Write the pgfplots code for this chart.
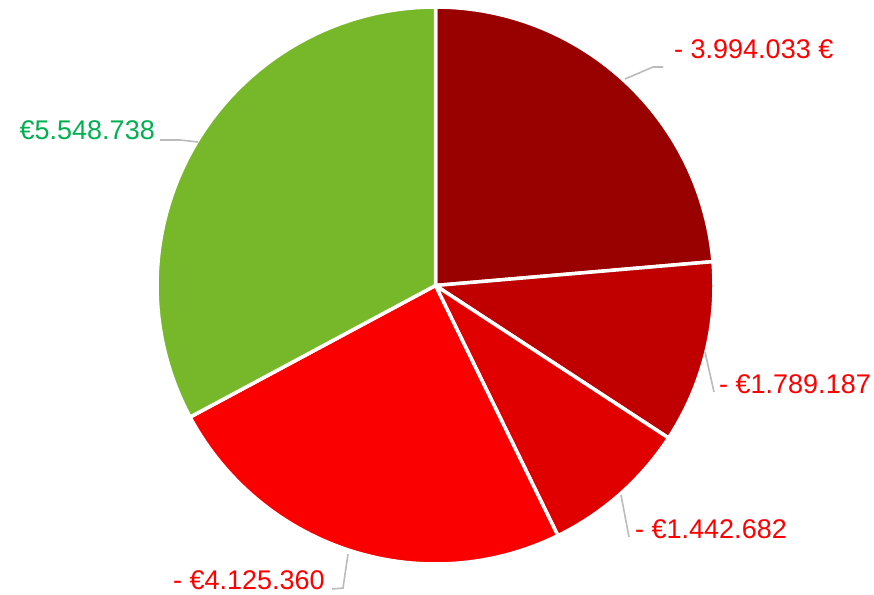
\documentclass[border=0pt]{standalone}
\usepackage{pgfplots}
\pgfplotsset{compat=1.18}
\usepackage{fontspec}
\setmainfont{Liberation Sans}
\definecolor{s1}{HTML}{990000}
\definecolor{s2}{HTML}{C00000}
\definecolor{s3}{HTML}{E00000}
\definecolor{s4}{HTML}{FA0000}
\definecolor{s5}{HTML}{77B82A}
\definecolor{lblred}{HTML}{FF0000}
\definecolor{lblgreen}{HTML}{00B050}
\definecolor{lead}{HTML}{BBBBBB}
% values in millions of euro
\def\vA{3.994033}
\def\vB{1.789187}
\def\vC{1.442682}
\def\vD{4.125360}
\def\vE{5.548738}
\pgfmathsetmacro{\tot}{\vA+\vB+\vC+\vD+\vE}
\pgfmathsetmacro{\aA}{0}
\pgfmathsetmacro{\aB}{\aA+360*\vA/\tot}
\pgfmathsetmacro{\aC}{\aB+360*\vB/\tot}
\pgfmathsetmacro{\aD}{\aC+360*\vC/\tot}
\pgfmathsetmacro{\aE}{\aD+360*\vD/\tot}
\pgfmathsetmacro{\aF}{360}
\def\cx{435.5}
\def\cy{285.5}
\def\rr{278.5}
\newcommand{\slice}[3]{%
  \addplot[fill=#1, draw=white, line width=3.5pt, line join=round,
    domain=-1:61, samples=63, variable=\t]
    ({ifthenelse(\t<-0.5 || \t>60.5, \cx, \cx+\rr*sin(#2+(#3-#2)*\t/60))},
     {ifthenelse(\t<-0.5 || \t>60.5, \cy, \cy-\rr*cos(#2+(#3-#2)*\t/60))});
}
\begin{document}
\begin{tikzpicture}
\begin{axis}[
  x=1pt, y=1pt, xmin=0, xmax=874, ymin=0, ymax=594, y dir=reverse,
  hide axis, clip=false, scale only axis,
]
\addplot[draw=none] coordinates {(0,0) (874,594)};
\slice{s1}{\aA}{\aB}
\slice{s2}{\aB}{\aC}
\slice{s3}{\aC}{\aD}
\slice{s4}{\aD}{\aE}
\slice{s5}{\aE}{\aF}
% leader lines
\addplot[lead, line width=1.6pt] coordinates {(625,79) (653,67) (663,67)};
\addplot[lead, line width=1.6pt] coordinates {(198,142) (180,140) (160,140)};
\addplot[lead, line width=1.6pt] coordinates {(705,352) (714,392)};
\addplot[lead, line width=1.6pt] coordinates {(621,495) (629,537)};
\addplot[lead, line width=1.6pt] coordinates {(348,554) (343,588) (332,589)};
% labels
\tikzset{lbl/.style={inner sep=0pt, font=\fontsize{27}{31}\selectfont}}
\node[lbl, text=lblred, anchor=base west] at (axis cs:674,58) {- 3.994.033 €};
\node[lbl, text=lblgreen, anchor=base east] at (axis cs:155,139) {€5.548.738};
\node[lbl, text=lblred, anchor=base west] at (axis cs:719,393) {- €1.789.187};
\node[lbl, text=lblred, anchor=base west] at (axis cs:635,538) {- €1.442.682};
\node[lbl, text=lblred, anchor=base east] at (axis cs:325,589) {- €4.125.360};
\end{axis}
\end{tikzpicture}
\end{document}
